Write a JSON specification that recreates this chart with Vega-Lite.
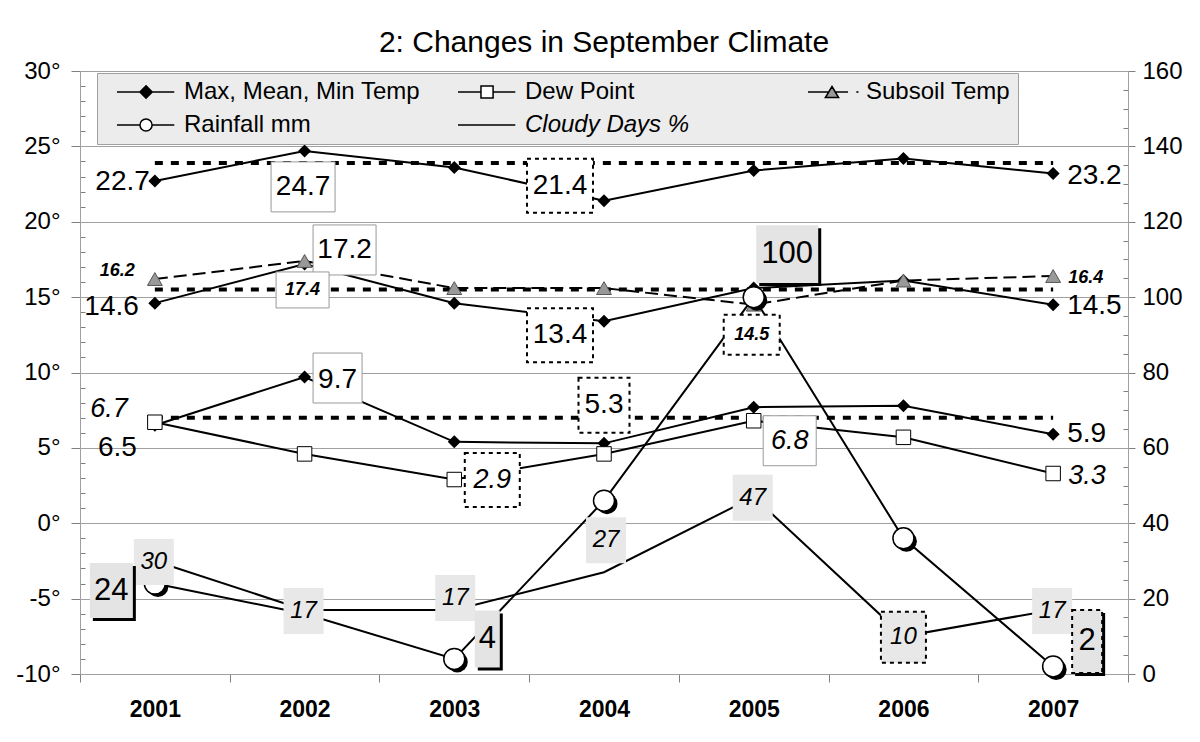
{
  "$schema": "https://vega.github.io/schema/vega-lite/v6.json",
  "width": 1048,
  "height": 603,
  "autosize": "none",
  "padding": {"left": 80, "top": 71, "right": 72, "bottom": 68},
  "background": "white",
  "title": {"text": "2: Changes in September Climate", "font": "Liberation Sans", "fontSize": 30, "fontWeight": "normal", "color": "black", "anchor": "middle", "baseline": "alphabetic", "offset": -23},
  "datasets": {
    "temp": [
      {"Year": 2001, "Series": "Max", "Value": 22.7}, {"Year": 2002, "Series": "Max", "Value": 24.7}, {"Year": 2003, "Series": "Max", "Value": 23.6}, {"Year": 2004, "Series": "Max", "Value": 21.4}, {"Year": 2005, "Series": "Max", "Value": 23.4}, {"Year": 2006, "Series": "Max", "Value": 24.2}, {"Year": 2007, "Series": "Max", "Value": 23.2},
      {"Year": 2001, "Series": "Mean", "Value": 14.6}, {"Year": 2002, "Series": "Mean", "Value": 17.2}, {"Year": 2003, "Series": "Mean", "Value": 14.6}, {"Year": 2004, "Series": "Mean", "Value": 13.4}, {"Year": 2005, "Series": "Mean", "Value": 15.6}, {"Year": 2006, "Series": "Mean", "Value": 16.1}, {"Year": 2007, "Series": "Mean", "Value": 14.5},
      {"Year": 2001, "Series": "Min", "Value": 6.5}, {"Year": 2002, "Series": "Min", "Value": 9.7}, {"Year": 2003, "Series": "Min", "Value": 5.4}, {"Year": 2004, "Series": "Min", "Value": 5.3}, {"Year": 2005, "Series": "Min", "Value": 7.7}, {"Year": 2006, "Series": "Min", "Value": 7.8}, {"Year": 2007, "Series": "Min", "Value": 5.9},
      {"Year": 2001, "Series": "Dew", "Value": 6.7}, {"Year": 2002, "Series": "Dew", "Value": 4.6}, {"Year": 2003, "Series": "Dew", "Value": 2.9}, {"Year": 2004, "Series": "Dew", "Value": 4.6}, {"Year": 2005, "Series": "Dew", "Value": 6.8}, {"Year": 2006, "Series": "Dew", "Value": 5.7}, {"Year": 2007, "Series": "Dew", "Value": 3.3},
      {"Year": 2001, "Series": "Subsoil", "Value": 16.2}, {"Year": 2002, "Series": "Subsoil", "Value": 17.4}, {"Year": 2003, "Series": "Subsoil", "Value": 15.6}, {"Year": 2004, "Series": "Subsoil", "Value": 15.6}, {"Year": 2005, "Series": "Subsoil", "Value": 14.5}, {"Year": 2006, "Series": "Subsoil", "Value": 16.1}, {"Year": 2007, "Series": "Subsoil", "Value": 16.4}
    ],
    "average": [
      {"Year": 2001, "Series": "Max", "Value": 23.9}, {"Year": 2007, "Series": "Max", "Value": 23.9},
      {"Year": 2001, "Series": "Mean", "Value": 15.5}, {"Year": 2007, "Series": "Mean", "Value": 15.5},
      {"Year": 2001, "Series": "Min", "Value": 7.0}, {"Year": 2007, "Series": "Min", "Value": 7.0}
    ],
    "right": [
      {"Year": 2001, "Series": "Rainfall", "Value": 24}, {"Year": 2002, "Series": "Rainfall", "Value": 16}, {"Year": 2003, "Series": "Rainfall", "Value": 4}, {"Year": 2004, "Series": "Rainfall", "Value": 46}, {"Year": 2005, "Series": "Rainfall", "Value": 100}, {"Year": 2006, "Series": "Rainfall", "Value": 36}, {"Year": 2007, "Series": "Rainfall", "Value": 2},
      {"Year": 2001, "Series": "Cloudy", "Value": 30}, {"Year": 2002, "Series": "Cloudy", "Value": 17}, {"Year": 2003, "Series": "Cloudy", "Value": 17}, {"Year": 2004, "Series": "Cloudy", "Value": 27}, {"Year": 2005, "Series": "Cloudy", "Value": 47}, {"Year": 2006, "Series": "Cloudy", "Value": 10}, {"Year": 2007, "Series": "Cloudy", "Value": 17}
    ],
    "legend": [
      {"Item": "Max, Mean, Min Temp"}, {"Item": "Dew Point"}, {"Item": "Subsoil Temp"}, {"Item": "Rainfall mm"}, {"Item": "Cloudy Days %"}
    ]
  },
  "encoding": {
    "x": {
      "field": "Year", "type": "ordinal",
      "scale": {"type": "band", "domain": [2001, 2002, 2003, 2004, 2005, 2006, 2007], "paddingInner": 0, "paddingOuter": 0},
      "axis": {"title": null, "orient": "bottom", "tickBand": "extent", "labelAngle": 0, "labelFont": "Liberation Sans", "labelFontSize": 23, "labelFontWeight": "bold", "labelColor": "black", "labelPadding": 16, "tickSize": 8, "tickColor": "#808080", "domainColor": "#a0a0a0", "grid": false}
    }
  },
  "layer": [
    {
      "data": {"name": "right"},
      "encoding": {
        "y": {
          "field": "Value", "type": "quantitative",
          "scale": {"domain": [0, 160], "nice": false},
          "axis": {
            "orient": "right", "title": null,
            "values": [0, 5, 10, 15, 20, 25, 30, 35, 40, 45, 50, 55, 60, 65, 70, 75, 80, 85, 90, 95, 100, 105, 110, 115, 120, 125, 130, 135, 140, 145, 150, 155, 160],
            "labelExpr": "datum.value % 20 === 0 ? datum.label : ''",
            "labelOverlap": false, "labelFont": "Liberation Sans", "labelFontSize": 24, "labelColor": "black", "labelPadding": 7,
            "tickSize": {"condition": {"test": "datum.value % 20 === 0", "value": 7}, "value": -5},
            "tickColor": "#808080", "domainColor": "#a0a0a0", "grid": false
          }
        }
      },
      "layer": [
        {"mark": {"type": "line", "color": "black", "strokeWidth": 2}, "encoding": {"detail": {"field": "Series"}}}
      ]
    },
    {
      "encoding": {
        "y": {
          "field": "Value", "type": "quantitative",
          "scale": {"domain": [-10, 30], "nice": false, "zero": false},
          "axis": {
            "orient": "left", "title": null,
            "values": [-10, -9, -8, -7, -6, -5, -4, -3, -2, -1, 0, 1, 2, 3, 4, 5, 6, 7, 8, 9, 10, 11, 12, 13, 14, 15, 16, 17, 18, 19, 20, 21, 22, 23, 24, 25, 26, 27, 28, 29, 30],
            "labelExpr": "datum.value % 5 === 0 ? datum.value + '°' : ''",
            "labelOverlap": false, "labelFont": "Liberation Sans", "labelFontSize": 24, "labelColor": "black", "labelPadding": 11,
            "tickSize": {"condition": {"test": "datum.value % 5 === 0", "value": 9}, "value": -5},
            "tickColor": "#808080", "domainColor": "#a0a0a0",
            "grid": true, "gridColor": "#a0a0a0",
            "gridOpacity": {"condition": {"test": "datum.value % 5 === 0", "value": 1}, "value": 0}
          }
        }
      },
      "layer": [
        {"data": {"name": "average"}, "mark": {"type": "line", "color": "black", "strokeWidth": 4, "strokeDash": [8, 8]}, "encoding": {"detail": {"field": "Series"}}},
        {"data": {"name": "temp"}, "transform": [{"filter": "datum.Series !== 'Subsoil'"}], "mark": {"type": "line", "color": "black", "strokeWidth": 2}, "encoding": {"detail": {"field": "Series"}}},
        {"data": {"name": "temp"}, "transform": [{"filter": "datum.Series === 'Subsoil'"}], "mark": {"type": "line", "color": "black", "strokeWidth": 2, "strokeDash": [13, 6]}, "encoding": {}},
        {"data": {"name": "temp"}, "transform": [{"filter": "indexof(['Max', 'Mean', 'Min'], datum.Series) >= 0"}], "mark": {"type": "point", "shape": "diamond", "size": 170, "filled": true, "fill": "black", "strokeWidth": 0, "opacity": 1}, "encoding": {}},
        {"data": {"name": "temp"}, "transform": [{"filter": "datum.Series === 'Dew'"}], "mark": {"type": "point", "shape": "square", "size": 210, "filled": true, "fill": "white", "stroke": "black", "strokeWidth": 1, "opacity": 1}, "encoding": {}},
        {"data": {"name": "temp"}, "transform": [{"filter": "datum.Series === 'Subsoil'"}], "mark": {"type": "point", "shape": "triangle-up", "size": 220, "filled": true, "fill": "#999999", "stroke": "#555555", "strokeWidth": 1, "opacity": 1}, "encoding": {}},

        {"data": {"name": "temp"}, "transform": [{"filter": "datum.Series === 'Max' && datum.Year === 2001"}], "mark": {"type": "text", "align": "right", "dx": -5, "dy": 1, "fontSize": 28}, "encoding": {"text": {"field": "Value", "type": "quantitative", "format": ".1f"}}},
        {"data": {"name": "temp"}, "transform": [{"filter": "datum.Series === 'Max' && datum.Year === 2002"}], "layer": [
          {"mark": {"type": "point", "shape": "M-1,-0.781L1,-0.781L1,0.781L-1,0.781Z", "size": 4096, "filled": true, "fill": "white", "stroke": "#999999", "strokeWidth": 1, "opacity": 1, "xOffset": -1.5, "yOffset": 36}, "encoding": {}},
          {"mark": {"type": "text", "dx": -1.5, "dy": 36, "fontSize": 28}, "encoding": {"text": {"field": "Value", "type": "quantitative", "format": ".1f"}}}
        ]},
        {"data": {"name": "temp"}, "transform": [{"filter": "datum.Series === 'Max' && datum.Year === 2004"}], "layer": [
          {"mark": {"type": "point", "shape": "M-1,-0.818L1,-0.818L1,0.818L-1,0.818Z", "size": 4356, "filled": true, "fill": "white", "stroke": "black", "strokeWidth": 2, "strokeDash": [4, 4], "opacity": 1, "xOffset": -44, "yOffset": -15}, "encoding": {}},
          {"mark": {"type": "text", "dx": -44, "dy": -15, "fontSize": 28}, "encoding": {"text": {"field": "Value", "type": "quantitative", "format": ".1f"}}}
        ]},
        {"data": {"name": "temp"}, "transform": [{"filter": "datum.Series === 'Max' && datum.Year === 2007"}], "mark": {"type": "text", "align": "left", "dx": 14, "dy": 2, "fontSize": 28}, "encoding": {"text": {"field": "Value", "type": "quantitative", "format": ".1f"}}},

        {"data": {"name": "temp"}, "transform": [{"filter": "datum.Series === 'Mean' && datum.Year === 2001"}], "mark": {"type": "text", "align": "right", "dx": -16, "dy": 4, "fontSize": 28}, "encoding": {"text": {"field": "Value", "type": "quantitative", "format": ".1f"}}},
        {"data": {"name": "temp"}, "transform": [{"filter": "datum.Series === 'Mean' && datum.Year === 2002"}], "layer": [
          {"mark": {"type": "point", "shape": "M-1,-0.794L1,-0.794L1,0.794L-1,0.794Z", "size": 3969, "filled": true, "fill": "white", "stroke": "#999999", "strokeWidth": 1, "opacity": 1, "xOffset": 40, "yOffset": -14}, "encoding": {}},
          {"mark": {"type": "text", "dx": 40, "dy": -14, "fontSize": 28}, "encoding": {"text": {"field": "Value", "type": "quantitative", "format": ".1f"}}}
        ]},
        {"data": {"name": "temp"}, "transform": [{"filter": "datum.Series === 'Mean' && datum.Year === 2004"}], "layer": [
          {"mark": {"type": "point", "shape": "M-1,-0.818L1,-0.818L1,0.818L-1,0.818Z", "size": 4356, "filled": true, "fill": "white", "stroke": "black", "strokeWidth": 2, "strokeDash": [4, 4], "opacity": 1, "xOffset": -44, "yOffset": 14}, "encoding": {}},
          {"mark": {"type": "text", "dx": -44, "dy": 14, "fontSize": 28}, "encoding": {"text": {"field": "Value", "type": "quantitative", "format": ".1f"}}}
        ]},
        {"data": {"name": "temp"}, "transform": [{"filter": "datum.Series === 'Mean' && datum.Year === 2007"}], "mark": {"type": "text", "align": "left", "dx": 14, "dy": 1.5, "fontSize": 28}, "encoding": {"text": {"field": "Value", "type": "quantitative", "format": ".1f"}}},

        {"data": {"name": "temp"}, "transform": [{"filter": "datum.Series === 'Subsoil' && datum.Year === 2001"}], "mark": {"type": "text", "align": "right", "dx": -20, "dy": -8, "fontSize": 18, "fontStyle": "italic", "fontWeight": "bold"}, "encoding": {"text": {"field": "Value", "type": "quantitative", "format": ".1f"}}},
        {"data": {"name": "temp"}, "transform": [{"filter": "datum.Series === 'Subsoil' && datum.Year === 2002"}], "layer": [
          {"mark": {"type": "point", "shape": "M-1,-0.679L1,-0.679L1,0.679L-1,0.679Z", "size": 2809, "filled": true, "fill": "white", "stroke": "#999999", "strokeWidth": 1, "opacity": 1, "xOffset": -2, "yOffset": 29}, "encoding": {}},
          {"mark": {"type": "text", "dx": -2, "dy": 29, "fontSize": 18, "fontStyle": "italic", "fontWeight": "bold"}, "encoding": {"text": {"field": "Value", "type": "quantitative", "format": ".1f"}}}
        ]},
        {"data": {"name": "temp"}, "transform": [{"filter": "datum.Series === 'Subsoil' && datum.Year === 2005"}], "layer": [
          {"mark": {"type": "point", "shape": "M-1,-0.714L1,-0.714L1,0.714L-1,0.714Z", "size": 3136, "filled": true, "fill": "white", "stroke": "black", "strokeWidth": 2, "strokeDash": [4, 4], "opacity": 1, "xOffset": -2, "yOffset": 30}, "encoding": {}},
          {"mark": {"type": "text", "dx": -2, "dy": 30, "fontSize": 18, "fontStyle": "italic", "fontWeight": "bold"}, "encoding": {"text": {"field": "Value", "type": "quantitative", "format": ".1f"}}}
        ]},
        {"data": {"name": "temp"}, "transform": [{"filter": "datum.Series === 'Subsoil' && datum.Year === 2007"}], "mark": {"type": "text", "align": "left", "dx": 15, "dy": 2, "fontSize": 18, "fontStyle": "italic", "fontWeight": "bold"}, "encoding": {"text": {"field": "Value", "type": "quantitative", "format": ".1f"}}},

        {"data": {"name": "temp"}, "transform": [{"filter": "datum.Series === 'Min' && datum.Year === 2001"}], "mark": {"type": "text", "align": "right", "dx": -18, "dy": 23, "fontSize": 28}, "encoding": {"text": {"field": "Value", "type": "quantitative", "format": ".1f"}}},
        {"data": {"name": "temp"}, "transform": [{"filter": "datum.Series === 'Min' && datum.Year === 2002"}], "layer": [
          {"mark": {"type": "point", "shape": "M-1,-1.02L1,-1.02L1,1.02L-1,1.02Z", "size": 2401, "filled": true, "fill": "white", "stroke": "#999999", "strokeWidth": 1, "opacity": 1, "xOffset": 33, "yOffset": 1}, "encoding": {}},
          {"mark": {"type": "text", "dx": 33, "dy": 3, "fontSize": 28}, "encoding": {"text": {"field": "Value", "type": "quantitative", "format": ".1f"}}}
        ]},
        {"data": {"name": "temp"}, "transform": [{"filter": "datum.Series === 'Min' && datum.Year === 2004"}], "layer": [
          {"mark": {"type": "point", "shape": "M-1,-1.078L1,-1.078L1,1.078L-1,1.078Z", "size": 2601, "filled": true, "fill": "white", "stroke": "black", "strokeWidth": 2, "strokeDash": [4, 4], "opacity": 1, "xOffset": 0, "yOffset": -38}, "encoding": {}},
          {"mark": {"type": "text", "dx": 0, "dy": -38, "fontSize": 28}, "encoding": {"text": {"field": "Value", "type": "quantitative", "format": ".1f"}}}
        ]},
        {"data": {"name": "temp"}, "transform": [{"filter": "datum.Series === 'Min' && datum.Year === 2007"}], "mark": {"type": "text", "align": "left", "dx": 14, "dy": 0, "fontSize": 28}, "encoding": {"text": {"field": "Value", "type": "quantitative", "format": ".1f"}}},

        {"data": {"name": "temp"}, "transform": [{"filter": "datum.Series === 'Dew' && datum.Year === 2001"}], "mark": {"type": "text", "align": "right", "dx": -27, "dy": -13, "fontSize": 27, "fontStyle": "italic"}, "encoding": {"text": {"field": "Value", "type": "quantitative", "format": ".1f"}}},
        {"data": {"name": "temp"}, "transform": [{"filter": "datum.Series === 'Dew' && datum.Year === 2003"}], "layer": [
          {"mark": {"type": "point", "shape": "M-1,-0.982L1,-0.982L1,0.982L-1,0.982Z", "size": 3025, "filled": true, "fill": "white", "stroke": "black", "strokeWidth": 2, "strokeDash": [4, 4], "opacity": 1, "xOffset": 38, "yOffset": 0.5}, "encoding": {}},
          {"mark": {"type": "text", "dx": 38, "dy": 0.5, "fontSize": 27, "fontStyle": "italic"}, "encoding": {"text": {"field": "Value", "type": "quantitative", "format": ".1f"}}}
        ]},
        {"data": {"name": "temp"}, "transform": [{"filter": "datum.Series === 'Dew' && datum.Year === 2005"}], "layer": [
          {"mark": {"type": "point", "shape": "M-1,-0.943L1,-0.943L1,0.943L-1,0.943Z", "size": 2809, "filled": true, "fill": "white", "stroke": "#999999", "strokeWidth": 1, "opacity": 1, "xOffset": 36, "yOffset": 20}, "encoding": {}},
          {"mark": {"type": "text", "dx": 36, "dy": 20, "fontSize": 27, "fontStyle": "italic"}, "encoding": {"text": {"field": "Value", "type": "quantitative", "format": ".1f"}}}
        ]},
        {"data": {"name": "temp"}, "transform": [{"filter": "datum.Series === 'Dew' && datum.Year === 2007"}], "mark": {"type": "text", "align": "left", "dx": 15, "dy": 2, "fontSize": 27, "fontStyle": "italic"}, "encoding": {"text": {"field": "Value", "type": "quantitative", "format": ".1f"}}}
      ]
    },
    {
      "data": {"name": "right"},
      "encoding": {
        "y": {"field": "Value", "type": "quantitative", "scale": {"domain": [0, 160], "nice": false}, "axis": null}
      },
      "layer": [
        {"transform": [{"filter": "datum.Series === 'Rainfall'"}], "mark": {"type": "point", "shape": "circle", "size": 441, "filled": true, "fill": "black", "strokeWidth": 0, "opacity": 1, "xOffset": 3, "yOffset": 3}, "encoding": {}},
        {"transform": [{"filter": "datum.Series === 'Rainfall'"}], "mark": {"type": "point", "shape": "circle", "size": 441, "filled": true, "fill": "white", "stroke": "black", "strokeWidth": 1.5, "opacity": 1}, "encoding": {}},

        {"transform": [{"filter": "datum.Series === 'Cloudy' && indexof([2001, 2002, 2005, 2007], datum.Year) >= 0"}], "layer": [
          {"mark": {"type": "point", "shape": "M-1,-1.15L1,-1.15L1,1.15L-1,1.15Z", "size": 1600, "filled": true, "fill": "#e8e8e8", "strokeWidth": 0, "opacity": 1, "xOffset": -1, "yOffset": 1}, "encoding": {}},
          {"mark": {"type": "text", "dx": -1, "dy": 1, "fontSize": 24, "fontStyle": "italic"}, "encoding": {"text": {"field": "Value", "type": "quantitative"}}}
        ]},
        {"transform": [{"filter": "datum.Series === 'Cloudy' && datum.Year === 2003"}], "layer": [
          {"mark": {"type": "point", "shape": "M-1,-1.15L1,-1.15L1,1.15L-1,1.15Z", "size": 1600, "filled": true, "fill": "#e8e8e8", "strokeWidth": 0, "opacity": 1, "xOffset": 1, "yOffset": -12}, "encoding": {}},
          {"mark": {"type": "text", "dx": 1, "dy": -12, "fontSize": 24, "fontStyle": "italic"}, "encoding": {"text": {"field": "Value", "type": "quantitative"}}}
        ]},
        {"transform": [{"filter": "datum.Series === 'Cloudy' && datum.Year === 2004"}], "layer": [
          {"mark": {"type": "point", "shape": "M-1,-1.15L1,-1.15L1,1.15L-1,1.15Z", "size": 1600, "filled": true, "fill": "#e8e8e8", "strokeWidth": 0, "opacity": 1, "xOffset": 2, "yOffset": -32}, "encoding": {}},
          {"mark": {"type": "text", "dx": 2, "dy": -32, "fontSize": 24, "fontStyle": "italic"}, "encoding": {"text": {"field": "Value", "type": "quantitative"}}}
        ]},
        {"transform": [{"filter": "datum.Series === 'Cloudy' && datum.Year === 2006"}], "layer": [
          {"mark": {"type": "point", "shape": "M-1,-1.133L1,-1.133L1,1.133L-1,1.133Z", "size": 2025, "filled": true, "fill": "#e8e8e8", "stroke": "black", "strokeWidth": 2, "strokeDash": [4, 4], "opacity": 1, "xOffset": 0, "yOffset": 1}, "encoding": {}},
          {"mark": {"type": "text", "dx": 0, "dy": 1, "fontSize": 24, "fontStyle": "italic"}, "encoding": {"text": {"field": "Value", "type": "quantitative"}}}
        ]},

        {"transform": [{"filter": "datum.Series === 'Rainfall' && datum.Year === 2001"}], "layer": [
          {"mark": {"type": "point", "shape": "M-1,-1.279L1,-1.279L1,1.279L-1,1.279Z", "size": 1849, "filled": true, "fill": "black", "strokeWidth": 0, "opacity": 1, "xOffset": -40.5, "yOffset": 10}, "encoding": {}},
          {"mark": {"type": "point", "shape": "M-1,-1.279L1,-1.279L1,1.279L-1,1.279Z", "size": 1849, "filled": true, "fill": "#e4e4e4", "strokeWidth": 0, "opacity": 1, "xOffset": -43.5, "yOffset": 7}, "encoding": {}},
          {"mark": {"type": "text", "dx": -43.5, "dy": 7, "fontSize": 31}, "encoding": {"text": {"field": "Value", "type": "quantitative"}}}
        ]},
        {"transform": [{"filter": "datum.Series === 'Rainfall' && datum.Year === 2003"}], "layer": [
          {"mark": {"type": "point", "shape": "M-1,-2.28L1,-2.28L1,2.28L-1,2.28Z", "size": 625, "filled": true, "fill": "black", "strokeWidth": 0, "opacity": 1, "xOffset": 36, "yOffset": -17}, "encoding": {}},
          {"mark": {"type": "point", "shape": "M-1,-2.28L1,-2.28L1,2.28L-1,2.28Z", "size": 625, "filled": true, "fill": "#e4e4e4", "strokeWidth": 0, "opacity": 1, "xOffset": 33, "yOffset": -20}, "encoding": {}},
          {"mark": {"type": "text", "dx": 33, "dy": -20, "fontSize": 31}, "encoding": {"text": {"field": "Value", "type": "quantitative"}}}
        ]},
        {"transform": [{"filter": "datum.Series === 'Rainfall' && datum.Year === 2005"}], "layer": [
          {"mark": {"type": "point", "shape": "M-1,-0.935L1,-0.935L1,0.935L-1,0.935Z", "size": 3844, "filled": true, "fill": "black", "strokeWidth": 0, "opacity": 1, "xOffset": 36.5, "yOffset": -40}, "encoding": {}},
          {"mark": {"type": "point", "shape": "M-1,-0.935L1,-0.935L1,0.935L-1,0.935Z", "size": 3844, "filled": true, "fill": "#e4e4e4", "strokeWidth": 0, "opacity": 1, "xOffset": 33.5, "yOffset": -43}, "encoding": {}},
          {"mark": {"type": "text", "dx": 33.5, "dy": -43, "fontSize": 31}, "encoding": {"text": {"field": "Value", "type": "quantitative"}}}
        ]},
        {"transform": [{"filter": "datum.Series === 'Rainfall' && datum.Year === 2007"}], "layer": [
          {"mark": {"type": "point", "shape": "M-1,-2.1L1,-2.1L1,2.1L-1,2.1Z", "size": 900, "filled": true, "fill": "black", "strokeWidth": 0, "opacity": 1, "xOffset": 37, "yOffset": -22}, "encoding": {}},
          {"mark": {"type": "point", "shape": "M-1,-2.1L1,-2.1L1,2.1L-1,2.1Z", "size": 900, "filled": true, "fill": "#e4e4e4", "stroke": "black", "strokeWidth": 2, "strokeDash": [4, 4], "opacity": 1, "xOffset": 34, "yOffset": -25}, "encoding": {}},
          {"mark": {"type": "text", "dx": 34, "dy": -25, "fontSize": 31}, "encoding": {"text": {"field": "Value", "type": "quantitative"}}}
        ]}
      ]
    },
    {
      "data": {"name": "legend"},
      "mark": {"type": "point", "filled": true, "stroke": "black", "strokeWidth": 1.5},
      "encoding": {
        "opacity": {"value": 0},
        "shape": {
          "field": "Item", "type": "nominal",
          "scale": {
            "domain": ["Max, Mean, Min Temp", "Dew Point", "Subsoil Temp", "Rainfall mm", "Cloudy Days %"],
            "range": [
              "M0.09,0L2.17,0M3.29,0L5.3,0M2.73,-0.56L3.29,0L2.73,0.56L2.17,0Z",
              "M0.09,0L2.18,0M3.28,0L5.3,0M2.18,-0.55L3.28,-0.55L3.28,0.55L2.18,0.55Z",
              "M0.91,0L2.79,0M3.39,0L4.55,0M5.3,0L5.5,0M3.09,-0.5L3.69,0.5L2.49,0.5Z",
              "M0.09,0L2.18,0M3.28,0L5.3,0M2.18,0A0.55,0.55,0,1,0,3.28,0A0.55,0.55,0,1,0,2.18,0Z",
              "M0.09,0L5.3,0"
            ]
          },
          "legend": {"title": null, "orient": "none", "legendX": 17, "legendY": 2, "direction": "horizontal", "columns": 3, "gridAlign": "all", "padding": 7, "rowPadding": 9, "columnPadding": 24, "fillColor": "#ececec", "strokeColor": "#a0a0a0", "labelFont": "Liberation Sans", "labelFontSize": 24, "labelColor": "black", "labelOffset": 56, "labelLimit": 600, "symbolSize": 484, "symbolStrokeColor": "black", "symbolStrokeWidth": 1.5, "symbolOpacity": 1, "encode": {"entries": {"update": {"width": {"value": 312}}}, "labels": {"update": {"fontStyle": {"signal": "datum.label === 'Cloudy Days %' ? 'italic' : 'normal'"}}}}}
        },
        "fill": {
          "field": "Item", "type": "nominal",
          "scale": {
            "domain": ["Max, Mean, Min Temp", "Dew Point", "Subsoil Temp", "Rainfall mm", "Cloudy Days %"],
            "range": ["black", "white", "#999999", "white", "transparent"]
          },
          "legend": {"title": null, "orient": "none", "legendX": 17, "legendY": 2, "direction": "horizontal", "columns": 3, "gridAlign": "all", "padding": 7, "rowPadding": 9, "columnPadding": 24, "fillColor": "#ececec", "strokeColor": "#a0a0a0", "labelFont": "Liberation Sans", "labelFontSize": 24, "labelColor": "black", "labelOffset": 56, "labelLimit": 600, "symbolSize": 484, "symbolStrokeColor": "black", "symbolStrokeWidth": 1.5, "symbolOpacity": 1, "encode": {"entries": {"update": {"width": {"value": 312}}}, "labels": {"update": {"fontStyle": {"signal": "datum.label === 'Cloudy Days %' ? 'italic' : 'normal'"}}}}}
        }
      }
    }
  ],
  "resolve": {"scale": {"y": "independent"}, "axis": {"y": "independent"}},
  "config": {
    "view": {"stroke": "#a0a0a0", "strokeWidth": 1},
    "text": {"font": "Liberation Sans", "color": "black"},
    "legend": {"symbolOpacity": 1}
  }
}
